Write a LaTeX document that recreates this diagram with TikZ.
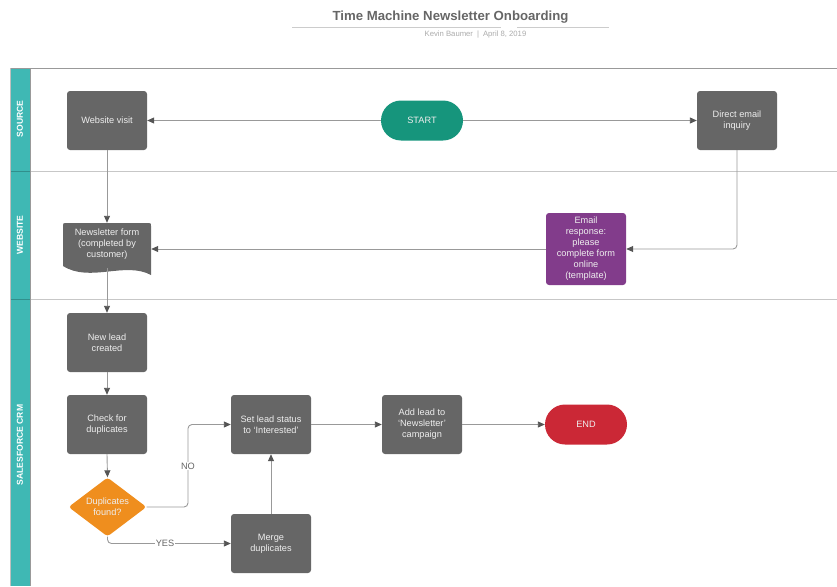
\documentclass[tikz,border=0pt]{standalone}
\usepackage{fontspec}
\setmainfont{Liberation Sans}
\usetikzlibrary{arrows.meta,shapes.geometric,calc}

\definecolor{boxgray}{HTML}{666666}
\definecolor{laneteal}{HTML}{3FB8B4}
\definecolor{startgreen}{HTML}{16957C}
\definecolor{mailpurple}{HTML}{823C8B}
\definecolor{decorange}{HTML}{EF8E1E}
\definecolor{endred}{HTML}{CB2836}
\definecolor{linegray}{HTML}{999999}
\definecolor{tipgray}{HTML}{555555}
\definecolor{titlegray}{HTML}{666666}
\definecolor{subgray}{HTML}{ABABAB}
\definecolor{boxtext}{HTML}{EEEEEE}

\tikzset{
  proc/.style={rectangle, rounded corners=3pt, fill=boxgray, text=boxtext,
    minimum width=80pt, minimum height=59pt, inner sep=0pt, align=center,
    font=\fontsize{9.2}{11}\selectfont},
  terminal/.style={rectangle, rounded corners=20pt, text=boxtext,
    minimum width=82pt, minimum height=40pt, inner sep=0pt, align=center,
    font=\fontsize{9.2}{11}\selectfont},
  decision/.style={diamond, aspect=1.33, rounded corners=3pt, fill=decorange,
    text=boxtext, minimum width=78pt, minimum height=59pt, inner sep=0pt,
    align=center, font=\fontsize{9.2}{11}\selectfont},
  formbox/.style={rectangle, minimum width=88pt, minimum height=42pt,
    inner sep=0pt, align=center, text=boxtext, font=\fontsize{9.2}{11}\selectfont},
  conn/.style={draw=linegray, line width=0.9pt,
    -{Triangle[length=7pt,width=6pt,color=tipgray]}},
  lbl/.style={fill=white, text=titlegray, inner sep=1pt,
    font=\fontsize{9.2}{11}\selectfont},
  lanelabel/.style={rotate=90, text=white, inner sep=0pt,
    font=\bfseries\fontsize{8.6}{10}\selectfont},
  divider/.style={draw=black, opacity=0.22, line width=1.5pt},
}

\begin{document}
\begin{tikzpicture}[x=1pt,y=-1pt]
\useasboundingbox (0,0) rectangle (837,586);

% heading
\node[font=\bfseries\fontsize{13.2}{15}\selectfont, text=titlegray] (title)
  at (450.5,17) {Time Machine Newsletter Onboarding};
\draw[draw=black!20, line width=1.2pt] (292,27.3) -- (500.5,27.3);
\draw[draw=black!20, line width=1.2pt] (517,27.3) -- (609,27.3);
\node[font=\fontsize{7.7}{9}\selectfont, text=subgray] (byline)
  at (475.5,35) {Kevin Baumer\hspace{4pt}|\hspace{4pt}April 8, 2019};

% swimlanes
\fill[laneteal] (10,68) rectangle (30,586);
\draw[draw=linegray, line width=1pt] (10,68) -- (837,68);
\draw[divider] (10,171.5) -- (837,171.5);
\draw[divider] (10,299.5) -- (837,299.5);
\draw[draw=linegray, line width=0.8pt] (30,68) -- (30,586);
\draw[draw=black!25, line width=0.6pt] (10,68) -- (10,586);
\node[lanelabel] (lsource) at (20,119) {SOURCE};
\node[lanelabel] (lweb) at (20,235) {WEBSITE};
\node[lanelabel] (lcrm) at (20,445) {SALESFORCE CRM};

% source lane
\node[proc] (visit) at (107,120.5) {Website visit};
\node[terminal, fill=startgreen] (start) at (422,120.5) {START};
\node[proc] (direct) at (737,120.5) {Direct email\\inquiry};

% website lane
\fill[boxgray] (63,266) -- (63,226) .. controls (63,223) .. (66,223)
  -- (148,223) .. controls (151,223) .. (151,226) -- (151,275)
  .. controls (125,261) and (90,283) .. (63,266) -- cycle;
\node[formbox] (form) at (107,244) {Newsletter form\\(completed by\\customer)};
\node[proc, fill=mailpurple, minimum height=72pt] (email) at (586,249)
  {Email\\response:\\please\\complete form\\online\\(template)};

% CRM lane
\node[proc] (newlead) at (107,342.5) {New lead\\created};
\node[proc] (check) at (107,424.5) {Check for\\duplicates};
\node[decision] (dup) at (107.5,507) {Duplicates\\found?};
\node[proc] (setstatus) at (271,424.5) {Set lead status\\to `Interested'};
\node[proc] (merge) at (271,543.5) {Merge\\duplicates};
\node[proc] (addlead) at (422,424.5) {Add lead to\\`Newsletter'\\campaign};
\node[terminal, fill=endred] (finish) at (586,424.5) {END};

% connectors
\draw[conn] (start.west) -- (visit.east);
\draw[conn] (start.east) -- (direct.west);
\draw[conn] (visit.south) -- (form.north);
\draw[conn, rounded corners=4pt] (direct.south) |- (email.east);
\draw[conn] (email.west) -- (email.west -| form.east);
\draw[conn] ($(form.south)+(0,3)$) -- (newlead.north);
\draw[conn] (newlead.south) -- (check.north);
\draw[conn] (check.south) -- (dup.north);
\coordinate (nobend) at (188,507);
\draw[conn, rounded corners=4pt] (dup.east) -- (nobend) |- (setstatus.west);
\draw[conn, rounded corners=4pt] (dup.south) |- (merge.west);
\draw[conn] (merge.north) -- (setstatus.south);
\draw[conn] (setstatus.east) -- (addlead.west);
\draw[conn] (addlead.east) -- (finish.west);

% branch labels
\node[lbl] (nolabel) at (188,466) {NO};
\node[lbl] (yeslabel) at (165,543.5) {YES};
\end{tikzpicture}
\end{document}
